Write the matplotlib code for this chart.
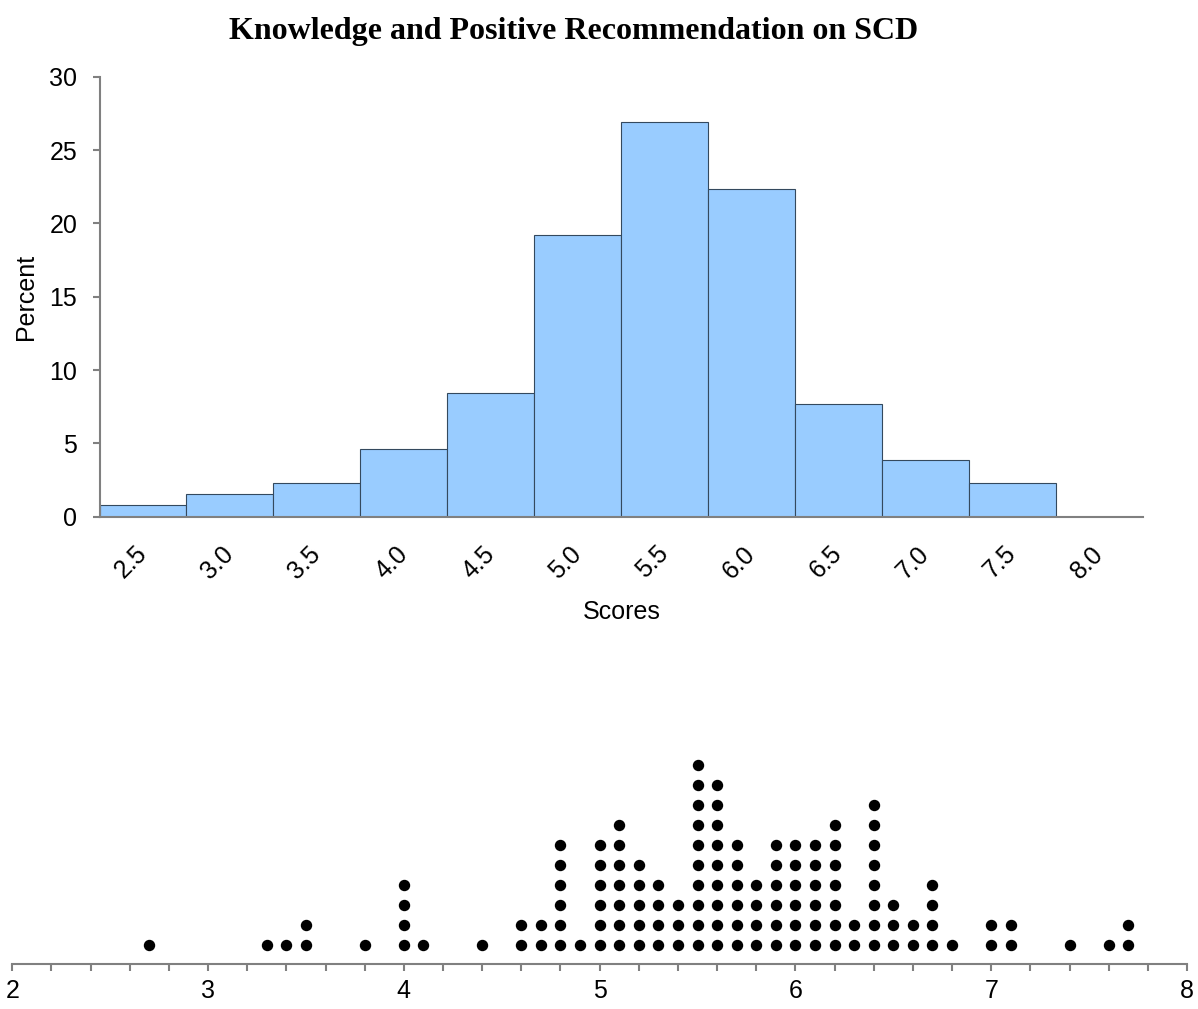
import matplotlib
matplotlib.use("Agg")
import matplotlib.pyplot as plt
import matplotlib.transforms as mtransforms
import numpy as np

# histogram: percent of respondents per score class
bin_labels = ["2.5", "3.0", "3.5", "4.0", "4.5", "5.0", "5.5", "6.0", "6.5", "7.0", "7.5", "8.0"]
bin_percent = [0.77, 1.54, 2.31, 4.62, 8.46, 19.23, 26.92, 22.31, 7.69, 3.85, 2.31, 0.0]

# dot plot: individual scores and how many respondents had each
score_vals = [2.7, 3.3, 3.4, 3.5, 3.8, 4.0, 4.1, 4.4, 4.6, 4.7, 4.8, 4.9,
              5.0, 5.1, 5.2, 5.3, 5.4, 5.5, 5.6, 5.7, 5.8, 5.9,
              6.0, 6.1, 6.2, 6.3, 6.4, 6.5, 6.6, 6.7, 6.8,
              7.0, 7.1, 7.4, 7.6, 7.7]
score_counts = [1, 1, 1, 2, 1, 4, 1, 1, 2, 2, 6, 1,
                6, 7, 5, 4, 3, 10, 9, 6, 4, 6,
                6, 6, 7, 2, 8, 3, 2, 4, 1,
                2, 2, 1, 1, 2]

plt.rcParams['font.family'] = ['Liberation Sans', 'DejaVu Sans']
W, H = 1198, 1009
fig = plt.figure(figsize=(W / 100, H / 100), dpi=100)
grey = '#808080'

# --- histogram ---
ax1 = fig.add_axes([99.5 / W, 1 - 516.7 / H, (1143 - 99.5) / W, 440 / H])
x = np.arange(len(bin_labels))
ax1.bar(x, bin_percent, width=1.0, color='#99CCFF', edgecolor='#34495E', linewidth=0.8)
ax1.set_xlim(-0.5, len(bin_labels) - 0.5)
ax1.set_ylim(0, 30)
ax1.set_yticks([0, 5, 10, 15, 20, 25, 30])
ax1.set_xticks(x)
ax1.set_xticklabels(bin_labels, rotation=45, ha='right', va='center', rotation_mode='anchor')
shift = mtransforms.ScaledTranslation(-5 / 100, 0, fig.dpi_scale_trans)
for lab in ax1.get_xticklabels():
    lab.set_transform(lab.get_transform() + shift)
ax1.tick_params(axis='y', length=5, width=1.5, color=grey, labelsize=18, pad=11)
ax1.tick_params(axis='x', length=0, labelsize=18, pad=24)
for s in ['top', 'right']:
    ax1.spines[s].set_visible(False)
for s in ['left', 'bottom']:
    ax1.spines[s].set_color(grey)
    ax1.spines[s].set_linewidth(1.5)
ax1.set_xlabel('Scores', fontsize=18, labelpad=12)
ax1.set_ylabel('Percent', fontsize=18, labelpad=8)

fig.text(574 / W, 1 - 39 / H, 'Knowledge and Positive Recommendation on SCD',
         ha='center', va='baseline', fontsize=23, fontweight='bold',
         family=['Liberation Serif', 'DejaVu Serif'])

# --- dot plot ---
ax2 = fig.add_axes([12.3 / W, 1 - 964 / H, (1187 - 12.3) / W, 264 / H])
for v, c in zip(score_vals, score_counts):
    ys = np.arange(1, c + 1)
    ax2.plot(np.full(c, v), ys, 'o', color='black', markersize=7.2, linestyle='none')
ax2.set_xlim(2, 8)
ax2.set_ylim(0.03, 13.23)
ax2.set_xticks(np.arange(2, 9, 1))
ax2.set_xticks(np.arange(2, 8.01, 0.2), minor=True)
ax2.set_yticks([])
ax2.tick_params(axis='x', which='both', length=5, width=1.5, color=grey, labelsize=18, pad=6)
for s in ['top', 'right', 'left']:
    ax2.spines[s].set_visible(False)
ax2.spines['bottom'].set_color(grey)
ax2.spines['bottom'].set_linewidth(1.5)

fig.savefig('out.png', dpi=100)
